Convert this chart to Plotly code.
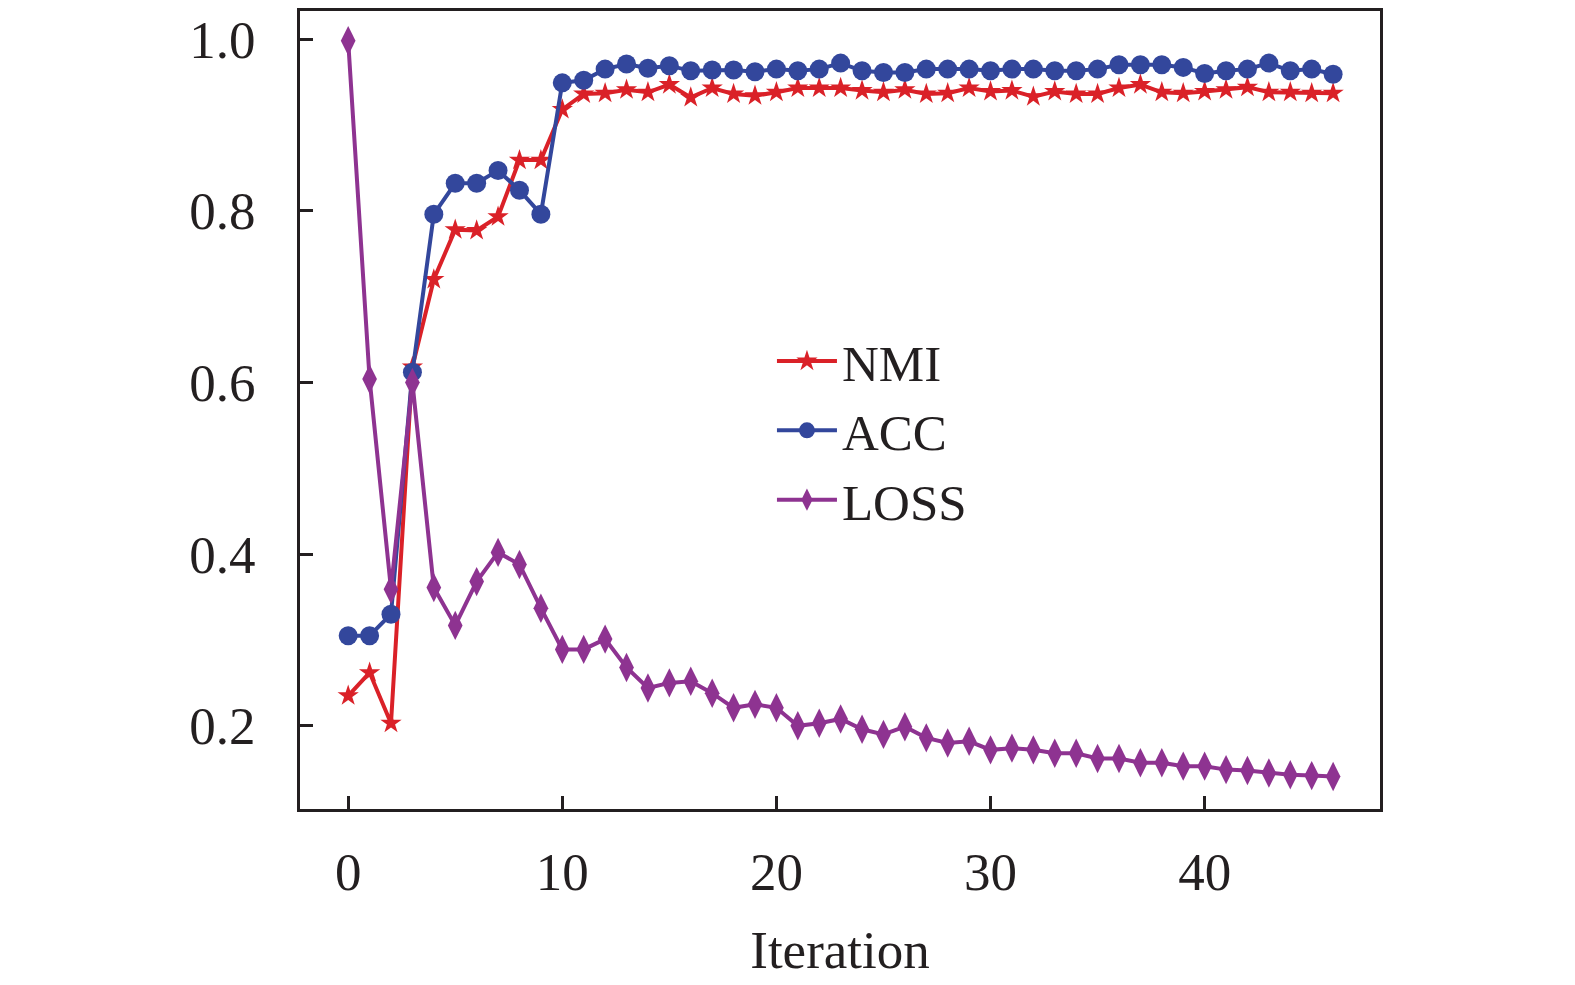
import plotly.graph_objects as go

# values
iteration = list(range(47))

nmi = [0.235, 0.262, 0.203, 0.618, 0.720, 0.778, 0.777, 0.793, 0.859, 0.859,
       0.918, 0.936, 0.937, 0.941, 0.938, 0.947, 0.932, 0.943, 0.936, 0.934,
       0.938, 0.943, 0.943, 0.943, 0.940, 0.938, 0.941, 0.936, 0.937, 0.943,
       0.939, 0.940, 0.933, 0.939, 0.936, 0.936, 0.943, 0.947, 0.938, 0.937,
       0.939, 0.941, 0.944, 0.938, 0.938, 0.937, 0.937]

acc = [0.305, 0.305, 0.330, 0.612, 0.796, 0.832, 0.832, 0.847, 0.824, 0.796,
       0.949, 0.952, 0.965, 0.971, 0.966, 0.969, 0.963, 0.964, 0.964, 0.962,
       0.965, 0.963, 0.965, 0.972, 0.963, 0.961, 0.961, 0.965, 0.965, 0.965,
       0.963, 0.965, 0.965, 0.963, 0.963, 0.965, 0.970, 0.970, 0.970, 0.967,
       0.960, 0.963, 0.965, 0.972, 0.963, 0.965, 0.959]

loss = [0.998, 0.604, 0.359, 0.600, 0.361, 0.317, 0.368, 0.402, 0.388, 0.337,
        0.289, 0.289, 0.301, 0.268, 0.244, 0.250, 0.252, 0.238, 0.221, 0.225,
        0.221, 0.200, 0.203, 0.208, 0.196, 0.190, 0.199, 0.186, 0.180, 0.182,
        0.172, 0.174, 0.172, 0.168, 0.168, 0.162, 0.162, 0.157, 0.157, 0.153,
        0.153, 0.149, 0.148, 0.145, 0.143, 0.142, 0.141]

x_ticks = [0, 10, 20, 30, 40]
y_ticks = [0.2, 0.4, 0.6, 0.8, 1.0]

fig = go.Figure()
fig.add_trace(go.Scatter(x=iteration, y=nmi, name="NMI", mode="lines+markers",
                         line=dict(color="#DA2128", width=4),
                         marker=dict(symbol="star", size=16, color="#DA2128")))
fig.add_trace(go.Scatter(x=iteration, y=acc, name="ACC", mode="lines+markers",
                         line=dict(color="#33479C", width=4),
                         marker=dict(symbol="circle", size=19, color="#33479C")))
fig.add_trace(go.Scatter(x=iteration, y=loss, name="LOSS", mode="lines+markers",
                         line=dict(color="#8E3391", width=4),
                         marker=dict(symbol="diamond-tall", size=21, color="#8E3391")))

axis_font = dict(family="Liberation Serif", size=53, color="#231F20")

fig.update_layout(
    width=1575, height=985,
    margin=dict(l=292, r=203, t=0, b=184),
    paper_bgcolor="white", plot_bgcolor="white",
    font=axis_font,
    legend=dict(x=0.437, y=0.611, xanchor="left", yanchor="top",
                bgcolor="rgba(0,0,0,0)", font=dict(family="Liberation Serif", size=51),
                itemwidth=60, tracegroupgap=0),
    xaxis=dict(range=[-2.25, 48.19], tickvals=x_ticks, ticks="inside", ticklen=13,
               tickwidth=3, tickcolor="#231F20", showline=True, linecolor="#231F20",
               linewidth=3, mirror=True, showgrid=False, zeroline=False,
               ticklabelstandoff=14, tickfont=axis_font,
               title=dict(text="Iteration", font=axis_font, standoff=32)),
    yaxis=dict(range=[0.1031, 1.0327], tickvals=y_ticks, tickformat=".1f",
               ticks="inside", ticklen=13, tickwidth=3, tickcolor="#231F20",
               showline=True, linecolor="#231F20", linewidth=3, mirror=True,
               showgrid=False, zeroline=False, ticklabelstandoff=31,
               tickfont=axis_font),
)

fig.write_html("out.html")
